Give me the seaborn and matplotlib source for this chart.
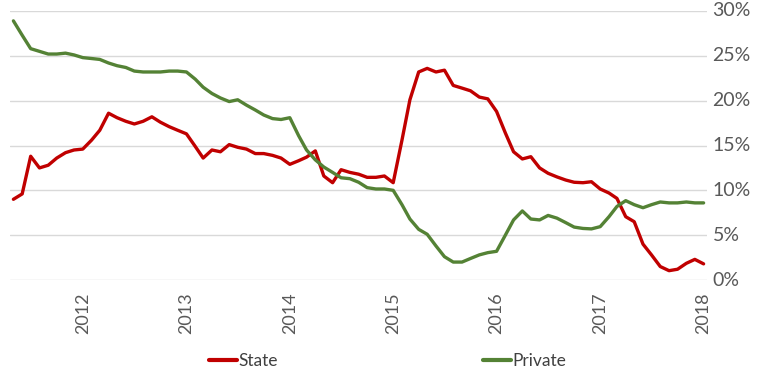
import matplotlib
matplotlib.use('Agg')
import pandas as pd
import numpy as np
import matplotlib.pyplot as plt
import matplotlib.dates as mdates
import matplotlib.ticker as mticker
import seaborn as sns

sns.set_style('white')
plt.rcParams['font.family'] = ['Lato', 'DejaVu Sans']

# ── Data (monthly, May 2011 – Jan 2018, % share) ────────────────────────────
months = pd.date_range('2011-05-01', '2018-01-01', freq='MS')

state = [
    9.0, 9.6, 13.8, 12.5, 12.8, 13.6, 14.2, 14.5, 14.6, 15.6,
    16.7, 18.6, 18.1, 17.7, 17.4, 17.7, 18.2, 17.6, 17.1, 16.7,
    16.3, 14.9, 13.6, 14.5, 14.3, 15.1, 14.8, 14.6, 14.1, 14.1,
    13.9, 13.6, 12.9, 13.3, 13.7, 14.4, 11.6, 10.85, 12.3, 12.0,
    11.8, 11.45, 11.45, 11.6, 10.85, 15.6, 20.1, 23.2, 23.6, 23.2,
    23.4, 21.7, 21.4, 21.1, 20.4, 20.2, 18.8, 16.4, 14.3, 13.5,
    13.75, 12.5, 11.9, 11.5, 11.15, 10.9, 10.85, 10.96, 10.15, 9.7,
    9.1, 7.06, 6.5, 4.0, 2.8, 1.5, 1.04, 1.2, 1.86, 2.3,
    1.8,
]
private = [
    28.9, 27.3, 25.8, 25.5, 25.2, 25.2, 25.3, 25.1, 24.8, 24.7,
    24.6, 24.2, 23.9, 23.7, 23.3, 23.2, 23.2, 23.2, 23.3, 23.3,
    23.2, 22.4, 21.5, 20.8, 20.3, 19.9, 20.1, 19.5, 18.96, 18.4,
    18.0, 17.9, 18.1, 16.1, 14.5, 13.4, 12.6, 12.0, 11.4, 11.3,
    10.9, 10.3, 10.15, 10.15, 10.0, 8.4, 6.8, 5.65, 5.1, 3.8,
    2.6, 2.0, 2.0, 2.4, 2.8, 3.05, 3.2, 5.0, 6.7, 7.7,
    6.8, 6.7, 7.2, 6.9, 6.4, 5.9, 5.75, 5.7, 5.95, 7.06,
    8.2, 8.85, 8.4, 8.06, 8.4, 8.7, 8.6, 8.6, 8.7, 8.6,
    8.6,
]
series_names = ['State', 'Private']
colors = {'State': '#C00000', 'Private': '#548235'}

df = pd.DataFrame({'date': months, 'State': state, 'Private': private})
long = df.melt(id_vars='date', value_vars=series_names,
               var_name='series', value_name='share')

# ── Plot ────────────────────────────────────────────────────────────────────
fig = plt.figure(figsize=(7.62, 3.88), dpi=100)
ax = fig.add_axes([10/762, 1 - 280/388, 697/762, 269/388])

sns.lineplot(data=long, x='date', y='share', hue='series',
             hue_order=series_names, palette=colors,
             linewidth=2.4, ax=ax, legend=False)

pad = pd.Timedelta(days=12)
ax.set_xlim(months[0] - pad, months[-1] + pad)
ax.set_ylim(0, 30)
ax.set_yticks(np.arange(0, 31, 5))
ax.yaxis.set_major_formatter(mticker.FuncFormatter(lambda v, _: f'{v:.0f}%'))
ax.yaxis.tick_right()
ax.xaxis.set_major_locator(mdates.YearLocator())
ax.xaxis.set_major_formatter(mdates.DateFormatter('%Y'))
ax.tick_params(axis='x', rotation=90, length=0, pad=9,
               labelsize=13, labelcolor='#595959')
ax.tick_params(axis='y', length=0, pad=4, labelsize=14, labelcolor='#595959')
for lbl in ax.get_yticklabels():
    lbl.set_va('center')
ax.grid(axis='y', color='#D9D9D9', linewidth=1)
ax.grid(axis='x', visible=False)
for s in ax.spines.values():
    s.set_visible(False)
ax.set_xlabel('')
ax.set_ylabel('')

handles = [plt.Line2D([], [], color=colors[n], linewidth=3) for n in series_names]
fig.legend(handles, series_names, loc='center', bbox_to_anchor=(0.509, 1 - 361/388),
           ncol=2, frameon=False, fontsize=12.5, handlelength=1.6,
           handletextpad=0.1, columnspacing=11.8, labelcolor='#404040')

plt.savefig('out.png', dpi=100)
plt.close()
